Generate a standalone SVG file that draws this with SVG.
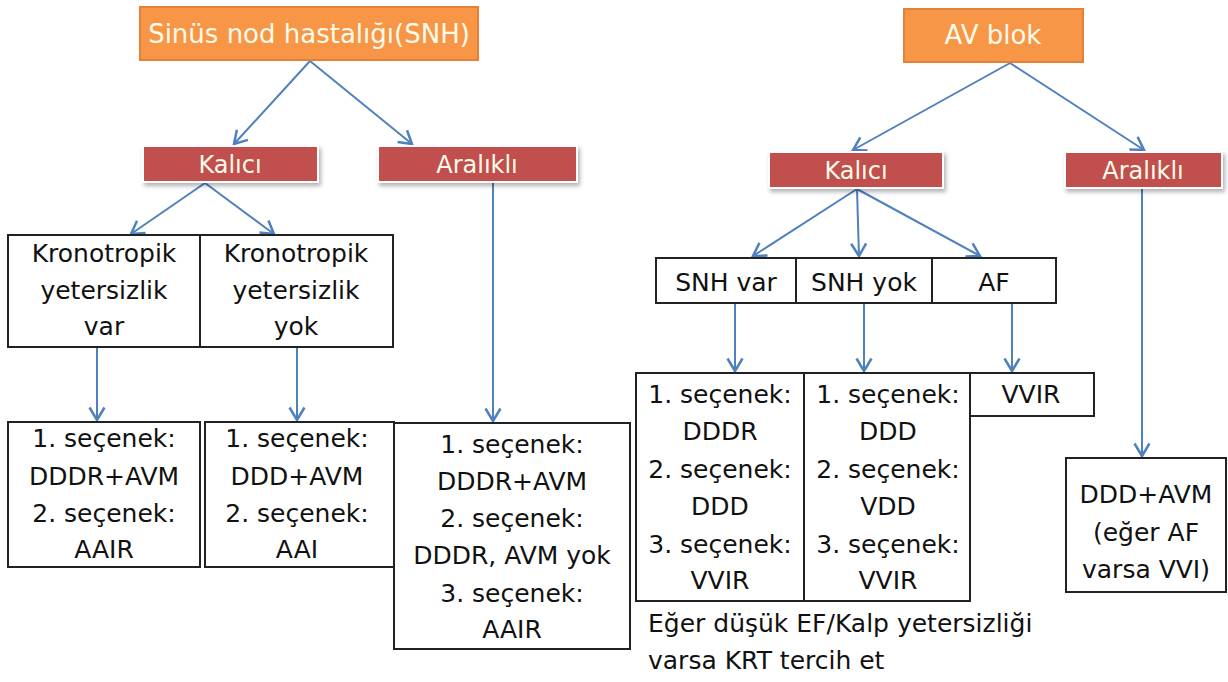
<svg xmlns="http://www.w3.org/2000/svg" width="1228" height="682" viewBox="0 0 1228 682">
<defs>
<marker id="arr" markerUnits="userSpaceOnUse" markerWidth="20" markerHeight="20" viewBox="-12 -8 14 16" refX="0" refY="0" orient="auto">
<path d="M-10,-6 L0,0 L-10,6" fill="none" stroke="#4F81BD" stroke-width="2"/>
</marker>
<filter id="sh" x="-10%" y="-30%" width="120%" height="180%">
<feDropShadow dx="2" dy="3" stdDeviation="2" flood-color="#000" flood-opacity="0.3"/>
</filter>
<style>
.t{font-family:"DejaVu Sans","Liberation Sans",sans-serif;font-size:25px;fill:#111;text-anchor:middle}
.w{fill:#FFFBEA;font-size:24px}
.org{fill:#F79646;stroke:#E3803A;stroke-width:2}
.red{fill:#C0504D;stroke:#fff;stroke-width:2}
.box{fill:#fff;stroke:#222;stroke-width:2}
.c{fill:none;stroke:#4F81BD;stroke-width:2;marker-end:url(#arr)}
</style>
</defs>
<rect width="1228" height="682" fill="#fff"/>

<g id="connectors">
<path class="c" d="M310,61 L234,144"/>
<path class="c" d="M310,61 L412,144"/>
<path class="c" d="M205,183 L131,234"/>
<path class="c" d="M205,183 L274,234"/>
<path class="c" d="M97,348 L97,420"/>
<path class="c" d="M297,348 L297,420"/>
<path class="c" d="M493,183 L493,421"/>
<path class="c" d="M1010,63 L853,150"/>
<path class="c" d="M1010,63 L1144,150"/>
<path class="c" d="M857,189 L753,256"/>
<path class="c" d="M857,189 L859,256"/>
<path class="c" d="M857,189 L980,256"/>
<path class="c" d="M735,304 L735,371"/>
<path class="c" d="M864,304 L864,371"/>
<path class="c" d="M1012,304 L1012,371"/>
<path class="c" d="M1142,189 L1142,456"/>
</g>

<g id="snh"><rect class="org" x="140" y="7" width="338" height="53"/><text class="t w" x="309" y="43" style="font-size:26px">Sinüs nod hastalığı(SNH)</text></g>
<g id="kalici-l"><rect class="red" x="143" y="146" width="175" height="36" filter="url(#sh)"/><text class="t w" x="230" y="173">Kalıcı</text></g>
<g id="aralikli-l"><rect class="red" x="378" y="146" width="199" height="36" filter="url(#sh)"/><text class="t w" x="477" y="173">Aralıklı</text></g>

<g id="kron-var"><rect class="box" x="8" y="235" width="192" height="112"/>
<text class="t" x="104" y="262">Kronotropik</text><text class="t" x="104" y="299">yetersizlik</text><text class="t" x="104" y="335">var</text></g>
<g id="kron-yok"><rect class="box" x="200" y="235" width="193" height="112"/>
<text class="t" x="296" y="262">Kronotropik</text><text class="t" x="296" y="299">yetersizlik</text><text class="t" x="296" y="335">yok</text></g>

<g id="opt1"><rect class="box" x="8" y="422" width="192" height="145"/>
<text class="t" x="104" y="447">1. seçenek:</text><text class="t" x="104" y="485">DDDR+AVM</text><text class="t" x="104" y="522">2. seçenek:</text><text class="t" x="104" y="558">AAIR</text></g>
<g id="opt2"><rect class="box" x="205" y="422" width="189" height="145"/>
<text class="t" x="297" y="447">1. seçenek:</text><text class="t" x="297" y="485">DDD+AVM</text><text class="t" x="297" y="522">2. seçenek:</text><text class="t" x="297" y="558">AAI</text></g>
<g id="opt3"><rect class="box" x="394" y="423" width="236" height="226"/>
<text class="t" x="512" y="453">1. seçenek:</text><text class="t" x="512" y="490">DDDR+AVM</text><text class="t" x="512" y="527">2. seçenek:</text><text class="t" x="512" y="564">DDDR, AVM yok</text><text class="t" x="512" y="602">3. seçenek:</text><text class="t" x="512" y="638">AAIR</text></g>

<g id="avblok"><rect class="org" x="904" y="9" width="179" height="53"/><text class="t w" x="993" y="44" style="font-size:26px">AV blok</text></g>
<g id="kalici-r"><rect class="red" x="769" y="152" width="174" height="36" filter="url(#sh)"/><text class="t w" x="856" y="179">Kalıcı</text></g>
<g id="aralikli-r"><rect class="red" x="1065" y="152" width="157" height="36" filter="url(#sh)"/><text class="t w" x="1143" y="179">Aralıklı</text></g>

<g id="snh-var"><rect class="box" x="656" y="258" width="140" height="45"/><text class="t" x="726" y="291">SNH var</text></g>
<g id="snh-yok"><rect class="box" x="796" y="258" width="136" height="45"/><text class="t" x="864" y="291">SNH yok</text></g>
<g id="af"><rect class="box" x="932" y="258" width="124" height="45"/><text class="t" x="994" y="291">AF</text></g>

<g id="optA"><rect class="box" x="636" y="373" width="168" height="228"/>
<text class="t" x="720" y="403">1. seçenek:</text><text class="t" x="720" y="440">DDDR</text><text class="t" x="720" y="478">2. seçenek:</text><text class="t" x="720" y="515">DDD</text><text class="t" x="720" y="553">3. seçenek:</text><text class="t" x="720" y="589">VVIR</text></g>
<g id="optB"><rect class="box" x="804" y="373" width="166" height="228"/>
<text class="t" x="888" y="403">1. seçenek:</text><text class="t" x="888" y="440">DDD</text><text class="t" x="888" y="478">2. seçenek:</text><text class="t" x="888" y="515">VDD</text><text class="t" x="888" y="553">3. seçenek:</text><text class="t" x="888" y="589">VVIR</text></g>
<g id="vvir"><rect class="box" x="970" y="373" width="124" height="43"/><text class="t" x="1031" y="403">VVIR</text></g>

<g id="note"><text class="t" style="text-anchor:start" x="648" y="632">Eğer düşük EF/Kalp yetersizliği</text><text class="t" style="text-anchor:start" x="648" y="669">varsa KRT tercih et</text></g>

<g id="ddd-avm"><rect class="box" x="1066" y="458" width="160" height="134"/>
<text class="t" x="1146" y="503">DDD+AVM</text><text class="t" x="1146" y="541">(eğer AF</text><text class="t" x="1146" y="578">varsa VVI)</text></g>
</svg>
